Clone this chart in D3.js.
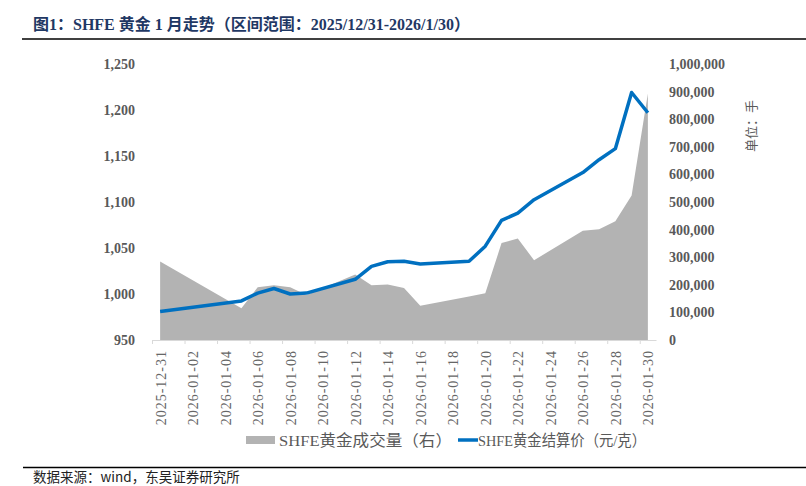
<!DOCTYPE html>
<html>
<head>
<meta charset="utf-8">
<script src="https://cdn.jsdelivr.net/npm/d3@7"></script>
<style>
  html, body { margin: 0; padding: 0; background: #fff; }
  svg { display: block; }
</style>
</head>
<body>
<svg id="chart" width="806" height="486"></svg>
<script>
// ---- data ----
const dates = ['2025-12-31','2026-01-05','2026-01-06','2026-01-07','2026-01-08','2026-01-09',
  '2026-01-12','2026-01-13','2026-01-14','2026-01-15','2026-01-16','2026-01-19','2026-01-20',
  '2026-01-21','2026-01-22','2026-01-23','2026-01-26','2026-01-27','2026-01-28','2026-01-29','2026-01-30'];
const price = [981, 992.5, 1001, 1006, 1000, 1001, 1016, 1030, 1035, 1035.5, 1032.5, 1035.5, 1052,
  1080, 1088, 1102.5, 1132, 1146, 1158, 1219, 1197];
const volume = [284000, 115000, 191000, 198000, 191000, 163000, 237000, 198000, 201000, 188000, 124000,
  158000, 169000, 351000, 368000, 289000, 396000, 401000, 430000, 524000, 893000];
const xTickLabels = ['2025-12-31','2026-01-02','2026-01-04','2026-01-06','2026-01-08','2026-01-10',
  '2026-01-12','2026-01-14','2026-01-16','2026-01-18','2026-01-20','2026-01-22','2026-01-24',
  '2026-01-26','2026-01-28','2026-01-30'];
const leftTicks = [950, 1000, 1050, 1100, 1150, 1200, 1250];
const rightTicks = [0, 100000, 200000, 300000, 400000, 500000, 600000, 700000, 800000, 900000, 1000000];
const titleText = '图1：SHFE 黄金 1 月走势（区间范围：2025/12/31-2026/1/30）';
const legendVolume = 'SHFE黄金成交量（右）';
const legendPrice = 'SHFE黄金结算价（元/克）';
const unitText = '单位：手';
const sourceText = '数据来源：wind，东吴证券研究所';

// ---- drawing ----
const parse = d3.timeParse('%Y-%m-%d');
const svg = d3.select('#chart');
const serif = '"Liberation Serif", "Times New Roman", "Noto Sans CJK SC", serif';

const x = d3.scaleTime()
  .domain([new Date(2025, 11, 30, 12), new Date(2026, 0, 30, 12)])
  .range([152, 656]);
const yL = d3.scaleLinear().domain([950, 1250]).range([340, 64]);
const yR = d3.scaleLinear().domain([0, 1000000]).range([340, 64]);

const rows = dates.map((d, i) => ({ date: parse(d), price: price[i], vol: volume[i] }));

// title
svg.append('text')
  .attr('x', 33).attr('y', 30)
  .attr('font-family', serif).attr('font-weight', 'bold').attr('font-size', 16)
  .attr('fill', '#1f3864')
  .text(titleText);
svg.append('line').attr('x1', 22).attr('x2', 806).attr('y1', 39).attr('y2', 39)
  .attr('stroke', '#000').attr('stroke-width', 1.5);

// area (volume)
const area = d3.area()
  .x(d => x(d.date))
  .y0(yR(0))
  .y1(d => yR(d.vol));
svg.append('path').datum(rows).attr('d', area).attr('fill', '#b3b3b3');

// x axis line and ticks
const tickDates = d3.range(16).map(k => d3.timeDay.offset(new Date(2025, 11, 30, 12), 2 * k));
const xTickAxis = d3.axisBottom(x).tickValues(tickDates).tickSize(4).tickFormat('').tickSizeOuter(0);
const gx = svg.append('g').attr('transform', 'translate(0,340)').call(xTickAxis);
gx.select('.domain').attr('stroke', '#d9d9d9').attr('stroke-width', 1);
gx.selectAll('.tick line').attr('stroke', '#d9d9d9');

// x labels
const labelDates = xTickLabels.map(parse);
const xLabAxis = d3.axisBottom(x).tickValues(labelDates).tickSize(0)
  .tickFormat((d, i) => xTickLabels[i]);
const gxl = svg.append('g').attr('transform', 'translate(0,340)').call(xLabAxis);
gxl.select('.domain').remove();
gxl.selectAll('.tick text')
  .attr('font-family', serif).attr('font-size', 14).attr('fill', '#666')
  .attr('letter-spacing', '1px')
  .attr('text-anchor', 'end')
  .attr('transform', 'rotate(-90)')
  .attr('x', -10).attr('y', 0).attr('dy', '0.35em');

// left axis
const gl = svg.append('g').attr('transform', 'translate(135,0)')
  .call(d3.axisLeft(yL).tickValues(leftTicks).tickSize(0).tickPadding(0).tickFormat(d3.format(',')));
gl.select('.domain').remove();
gl.selectAll('.tick text').attr('font-family', serif).attr('font-size', 14)
  .attr('font-weight', 'bold').attr('fill', '#595959');

// right axis
const gr = svg.append('g').attr('transform', 'translate(669,0)')
  .call(d3.axisRight(yR).tickValues(rightTicks).tickSize(0).tickPadding(0).tickFormat(d3.format(',')));
gr.select('.domain').remove();
gr.selectAll('.tick text').attr('font-family', serif).attr('font-size', 14)
  .attr('font-weight', 'bold').attr('fill', '#595959');

// line (price)
const line = d3.line().x(d => x(d.date)).y(d => yL(d.price));
svg.append('path').datum(rows).attr('d', line)
  .attr('fill', 'none').attr('stroke', '#0070c0').attr('stroke-width', 3.5)
  .attr('stroke-linejoin', 'round');

// unit label
svg.append('text')
  .attr('transform', 'translate(756,126) rotate(-90)')
  .attr('text-anchor', 'middle')
  .attr('font-family', serif).attr('font-size', 13).attr('fill', '#595959')
  .text(unitText);

// legend
svg.append('rect').attr('x', 246).attr('y', 436).attr('width', 29).attr('height', 8).attr('fill', '#b3b3b3');
svg.append('text').attr('x', 279).attr('y', 445.5)
  .attr('font-family', serif).attr('font-size', 15.5).attr('fill', '#595959')
  .attr('textLength', 173).attr('lengthAdjust', 'spacingAndGlyphs')
  .text(legendVolume);
svg.append('line').attr('x1', 458).attr('x2', 478).attr('y1', 440).attr('y2', 440)
  .attr('stroke', '#0070c0').attr('stroke-width', 3.5);
svg.append('text').attr('x', 478).attr('y', 445.5)
  .attr('font-family', serif).attr('font-size', 15.5).attr('fill', '#595959')
  .attr('textLength', 168).attr('lengthAdjust', 'spacingAndGlyphs')
  .text(legendPrice);

// footer
svg.append('line').attr('x1', 23).attr('x2', 806).attr('y1', 467.5).attr('y2', 467.5)
  .attr('stroke', '#000').attr('stroke-width', 1.5);
svg.append('text').attr('x', 33).attr('y', 481.5)
  .attr('font-family', '"Noto Sans CJK SC", sans-serif').attr('font-size', 13.5).attr('fill', '#222')
  .text(sourceText);
</script>
</body>
</html>
